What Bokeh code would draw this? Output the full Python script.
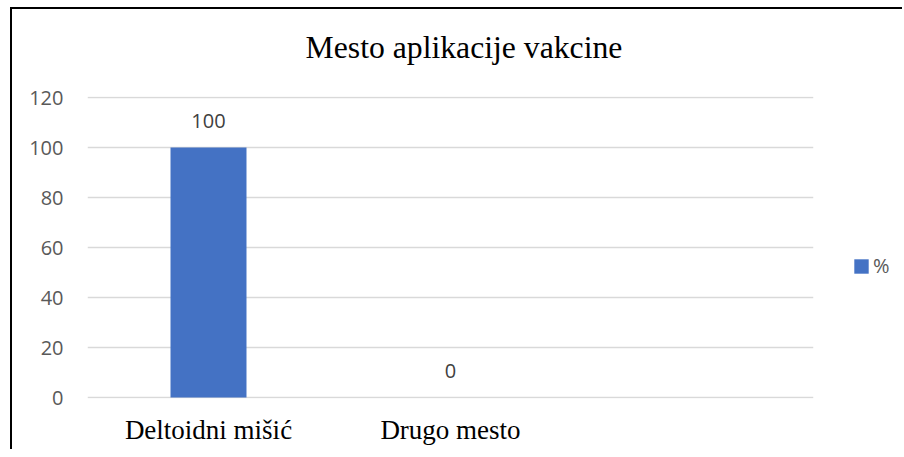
from bokeh.plotting import figure
from bokeh.layouts import row, column
from bokeh.models import (Range1d, FactorRange, FixedTicker, ColumnDataSource,
                          LabelSet, Label, Legend, LegendItem)
from bokeh.core.properties import value
from bokeh.embed import file_html
from bokeh.resources import INLINE

title_text = "Mesto aplikacije vakcine"
categories = ["Deltoidni mišić", "Drugo mesto", " "]
series_name = "%"
bar_categories = ["Deltoidni mišić", "Drugo mesto"]
values = [100, 0]
value_labels = ["100", "0"]
y_ticks = [0, 20, 40, 60, 80, 100, 120]

BAR = "#4472C4"
GRID = "#D9D9D9"
TXT = "#595959"

MAIN_W, LEG_W = 820, 70

# ---- title strip ----
TW, TH = MAIN_W + LEG_W, 72
tf = figure(width=TW, height=TH, x_range=Range1d(0, TW), y_range=Range1d(0, TH),
            output_backend="svg", toolbar_location=None,
            min_border_left=0, min_border_right=0, min_border_top=0, min_border_bottom=0)
tf.axis.visible = False
tf.grid.visible = False
tf.outline_line_color = None
tf.border_fill_color = "white"
tf.add_layout(Label(x=451.5, y=34, text=title_text, text_align="center",
                    text_baseline="middle", text_font="Liberation Serif",
                    text_font_size="31.7px", text_color="black"))

# ---- main chart ----
H = 368
p = figure(width=MAIN_W, height=H, x_range=FactorRange(factors=categories, range_padding=0),
           y_range=Range1d(-0.4, 120.4), output_backend="svg", toolbar_location=None,
           min_border_left=75, min_border_right=19, min_border_top=15, min_border_bottom=51)
p.outline_line_color = None
p.background_fill_color = "white"
p.border_fill_color = "white"

src = ColumnDataSource(dict(cat=bar_categories, val=values, lab=value_labels))
r = p.vbar(x="cat", top="val", width=0.314, source=src, fill_color=BAR, line_color=None)

labels = LabelSet(x="cat", y="val", text="lab", source=src, y_offset=27,
                  text_align="center", text_baseline="middle",
                  text_font=value("Open Sans"), text_font_size=value("20px"),
                  text_color="#404040")
p.add_layout(labels)

p.xgrid.grid_line_color = None
p.ygrid.grid_line_color = GRID
p.ygrid.grid_line_width = 1.3
p.yaxis.ticker = FixedTicker(ticks=y_ticks)

for ax in (p.xaxis[0], p.yaxis[0]):
    ax.axis_line_color = None
    ax.major_tick_line_color = None
    ax.minor_tick_line_color = None
    ax.major_tick_out = 0
    ax.major_tick_in = 0

p.yaxis.major_label_text_font = "Open Sans"
p.yaxis.major_label_text_font_size = "20px"
p.yaxis.major_label_text_color = TXT
p.yaxis.major_label_standoff = 24

p.xaxis.major_label_text_font = "Liberation Serif"
p.xaxis.major_label_text_font_size = "27px"
p.xaxis.major_label_text_color = "black"
p.xaxis.major_label_standoff = 16

# ---- legend strip (kept outside the plot frame so it is not clipped) ----
lg = figure(width=LEG_W, height=H, x_range=FactorRange(factors=categories),
            y_range=Range1d(1000, 1001), output_backend="svg", toolbar_location=None,
            min_border_left=0, min_border_right=0, min_border_top=15, min_border_bottom=51)
lg.axis.visible = False
lg.grid.visible = False
lg.outline_line_color = None
lg.border_fill_color = "white"
# zero-width key renderer: supplies the legend swatch only, draws nothing itself
lg_r = lg.vbar(x="cat", top="val", width=0, source=src, fill_color=BAR, line_color=None)

legend = Legend(items=[LegendItem(label=series_name, renderers=[lg_r])],
                location=(20, 119), orientation="vertical")
legend.padding = 0
legend.margin = 0
legend.spacing = 0
legend.glyph_width = 18
legend.glyph_height = 18
legend.label_standoff = 3
legend.label_text_font = "Open Sans"
legend.label_text_font_size = "20px"
legend.label_text_color = TXT
legend.border_line_color = None
legend.background_fill_alpha = 0
lg.add_layout(legend, "center")

layout = column(tf, row(p, lg),
                styles={"border-left": "2px solid black", "border-top": "2px solid black",
                        "margin-left": "10px", "margin-top": "7px"})

open("out.html", "w").write(file_html(layout, INLINE))
